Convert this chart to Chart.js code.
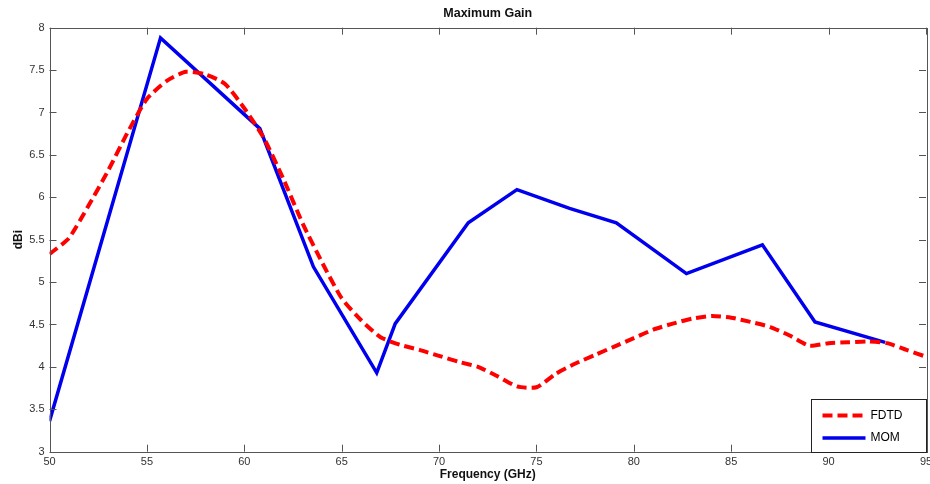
<!DOCTYPE html>
<html>
<head>
<meta charset="utf-8">
<script src="https://cdn.jsdelivr.net/npm/chart.js@4.4.1/dist/chart.umd.min.js"></script>
<style>
  html, body { margin: 0; padding: 0; background: #fff; }
  #wrap { width: 930px; height: 484px; }
</style>
</head>
<body>
<div id="wrap"><canvas id="gainChart" width="930" height="484"></canvas></div>
<script>
// values
const freqFDTD = [50, 51, 52, 53, 54, 55, 56, 57, 58, 59, 60, 61, 62, 63, 64, 65, 66, 67, 68, 69, 70,
                  71, 72, 73, 74, 75, 76, 77, 78, 79, 80, 81, 82, 83, 84, 85, 86, 87, 88, 89, 90,
                  91, 92, 93, 94, 95];
const gainFDTD = [5.33, 5.52, 5.90, 6.31, 6.76, 7.16, 7.37, 7.48, 7.45, 7.34, 7.05, 6.70, 6.22, 5.69, 5.23, 4.81, 4.55, 4.35, 4.26, 4.20, 4.13,
                  4.06, 4.00, 3.89, 3.77, 3.76, 3.92, 4.04, 4.14, 4.24, 4.34, 4.44, 4.51, 4.57, 4.60, 4.58, 4.53, 4.47, 4.37, 4.25, 4.28,
                  4.29, 4.30, 4.28, 4.20, 4.12];

const freqMOM = [50, 55.7, 60.8, 63.55, 66.8, 67.75, 71.5, 74.0, 76.7, 79.1, 82.7, 86.6, 89.3, 92.9];
const gainMOM = [3.36, 7.88, 6.81, 5.18, 3.93, 4.51, 5.70, 6.09, 5.87, 5.70, 5.10, 5.44, 4.53, 4.29];

const xTickValues = [50, 55, 60, 65, 70, 75, 80, 85, 90, 95];
const yTickValues = [3, 3.5, 4, 4.5, 5, 5.5, 6, 6.5, 7, 7.5, 8];

const toPoints = (xs, ys) => xs.map((x, i) => ({ x: x, y: ys[i] }));

// box, inward tick marks on all four sides and the legend, like the matlab figure
const axesBox = {
    id: 'axesBox',
    afterDatasetsDraw(chart) {
        const ctx = chart.ctx;
        const a = chart.chartArea;
        const xs = chart.scales.x, ys = chart.scales.y;
        const tl = 7;
        ctx.save();
        ctx.strokeStyle = '#555';
        ctx.lineWidth = 1;
        ctx.beginPath();
        xTickValues.forEach(v => {
            const px = Math.round(xs.getPixelForValue(v)) + 0.5;
            ctx.moveTo(px, a.bottom); ctx.lineTo(px, a.bottom - tl);
            ctx.moveTo(px, a.top); ctx.lineTo(px, a.top + tl);
        });
        yTickValues.forEach(v => {
            const py = Math.round(ys.getPixelForValue(v)) + 0.5;
            ctx.moveTo(a.left, py); ctx.lineTo(a.left + tl, py);
            ctx.moveTo(a.right, py); ctx.lineTo(a.right - tl, py);
        });
        ctx.stroke();
        ctx.strokeRect(Math.round(a.left) + 0.5, Math.round(a.top) + 0.5,
                       Math.round(a.right - a.left), Math.round(a.bottom - a.top));

        // legend in the lower right corner
        const bw = 115, bh = 53;
        const bx = Math.round(a.right) - bw + 0.5, by = Math.round(a.bottom) - bh + 0.5;
        ctx.fillStyle = '#fff';
        ctx.fillRect(bx, by, bw, bh);
        ctx.strokeStyle = '#222';
        ctx.strokeRect(bx, by, bw, bh);
        ctx.font = '12px "Liberation Sans", Arial, sans-serif';
        ctx.textBaseline = 'middle';
        chart.data.datasets.forEach((ds, i) => {
            const ly = by + 16 + i * 22.5;
            ctx.beginPath();
            ctx.strokeStyle = ds.borderColor;
            ctx.lineWidth = ds.borderWidth;
            ctx.setLineDash(ds.borderDash || []);
            ctx.moveTo(bx + 11, ly);
            ctx.lineTo(bx + 54, ly);
            ctx.stroke();
            ctx.setLineDash([]);
            ctx.fillStyle = '#000';
            ctx.fillText(ds.label, bx + 59, ly);
        });
        ctx.restore();
    }
};

const ctx = document.getElementById('gainChart').getContext('2d');
const gainChart = new Chart(ctx, {
    type: 'line',
    data: {
        datasets: [{
            label: 'FDTD',
            data: toPoints(freqFDTD, gainFDTD),
            borderColor: '#ff0000',
            borderWidth: 4,
            borderDash: [10, 5],
            pointRadius: 0,
            tension: 0.2,
            fill: false
        }, {
            label: 'MOM',
            data: toPoints(freqMOM, gainMOM),
            borderColor: '#0000ee',
            borderWidth: 3.5,
            pointRadius: 0,
            tension: 0,
            fill: false
        }]
    },
    options: {
        responsive: false,
        animation: false,
        layout: { padding: { left: 0, right: 0, top: 0, bottom: 0 } },
        plugins: {
            legend: { display: false },
            tooltip: { enabled: false },
            title: {
                display: true,
                text: 'Maximum Gain',
                fullSize: false,
                color: '#111',
                font: { family: '"Liberation Sans", Arial, sans-serif', size: 12.5, weight: 'bold' },
                padding: { top: 6, bottom: 6.7 }
            }
        },
        scales: {
            x: {
                type: 'linear',
                min: 50,
                max: 95,
                afterBuildTicks: (scale) => { scale.ticks = xTickValues.map(v => ({ value: v })); },
                afterFit: (scale) => {
                    scale.height = 32.3;
                    scale.paddingLeft = 0;
                    scale.paddingRight = 4;
                },
                grid: { display: false, drawTicks: false },
                border: { display: false },
                ticks: {
                    padding: 4,
                    maxRotation: 0,
                    color: '#333',
                    font: { family: '"Liberation Sans", Arial, sans-serif', size: 11 },
                    callback: (v) => String(v)
                },
                title: {
                    display: true,
                    text: 'Frequency (GHz)',
                    color: '#111',
                    padding: { top: 0, bottom: 2 },
                    font: { family: '"Liberation Sans", Arial, sans-serif', size: 12, weight: 'bold' }
                }
            },
            y: {
                min: 3,
                max: 8,
                afterBuildTicks: (scale) => { scale.ticks = yTickValues.map(v => ({ value: v })); },
                afterFit: (scale) => { scale.width = 49.5; },
                grid: { display: false, drawTicks: false },
                border: { display: false },
                ticks: {
                    padding: 5,
                    color: '#333',
                    font: { family: '"Liberation Sans", Arial, sans-serif', size: 11 },
                    callback: (v) => String(v)
                },
                title: {
                    display: true,
                    text: 'dBi',
                    color: '#111',
                    padding: { top: 11, bottom: 0 },
                    font: { family: '"Liberation Sans", Arial, sans-serif', size: 12, weight: 'bold' }
                }
            }
        }
    },
    plugins: [axesBox]
});
</script>
</body>
</html>
